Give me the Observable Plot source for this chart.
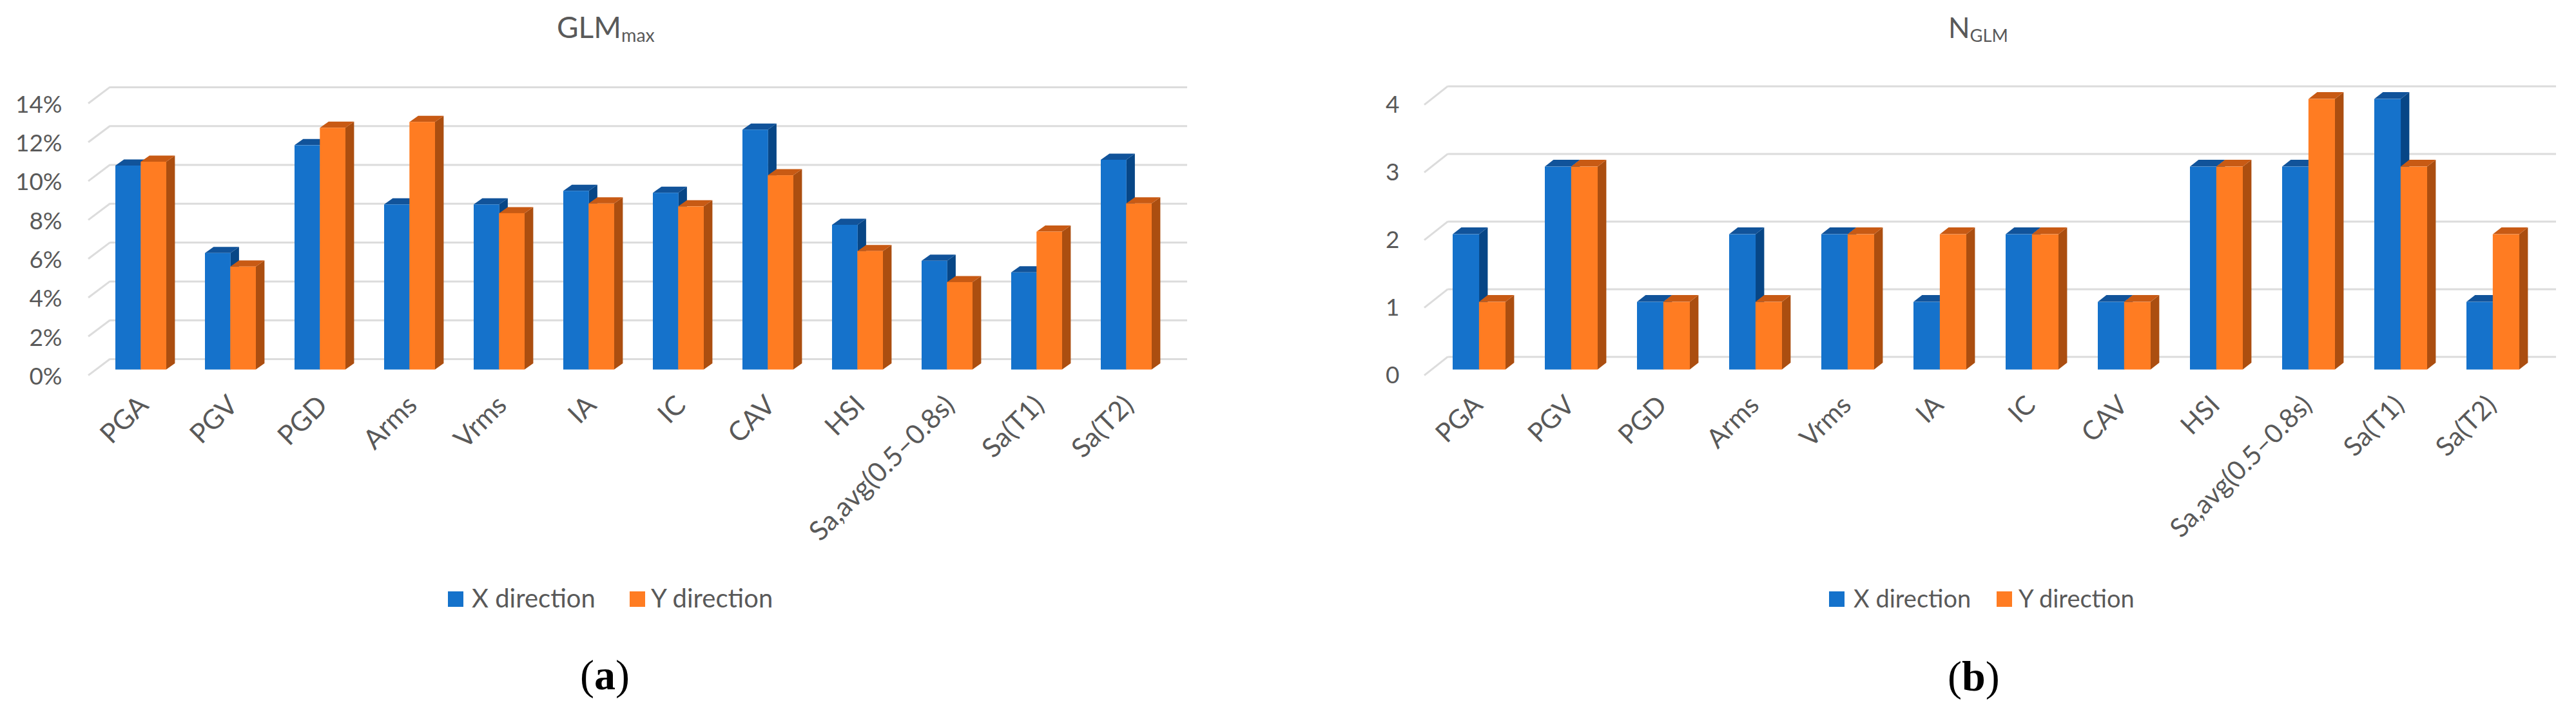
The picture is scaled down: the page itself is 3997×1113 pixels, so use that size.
<!DOCTYPE html>
<html><head><meta charset="utf-8">
<script src="https://cdn.jsdelivr.net/npm/d3@7"></script>
<script src="https://cdn.jsdelivr.net/npm/@observablehq/plot@0.6"></script>
<style>
html,body{margin:0;background:#fff}
#root{position:relative;width:3997px;height:1113px;overflow:hidden;font-family:Lato,sans-serif;color:#595959}
#root svg{position:absolute;top:0;background:transparent;overflow:visible}
.t{position:absolute;white-space:nowrap;line-height:1}
.t sub{font-size:.62em;vertical-align:baseline;position:relative;top:.22em}
.sw{position:absolute;width:24px;height:24px}
.cap{position:absolute;white-space:nowrap;font-family:"Liberation Serif",serif;color:#000;font-size:66px;line-height:1}
</style></head><body><div id="root"></div>
<script>
const categories = ["PGA","PGV","PGD","Arms","Vrms","IA","IC","CAV","HSI","Sa,avg(0.5–0.8s)","Sa(T1)","Sa(T2)"];
const glmX = [10.5,6.0,11.55,8.5,8.5,9.2,9.1,12.35,7.45,5.6,5.0,10.8];
const glmY = [10.7,5.3,12.45,12.75,8.05,8.55,8.4,10.0,6.1,4.5,7.1,8.55];
const nX = [2,3,1,2,2,1,2,1,3,3,4,1];
const nY = [1,3,1,1,2,2,2,1,3,4,3,2];
const glmTicks = [0,2,4,6,8,10,12,14];
const nTicks = [0,1,2,3,4];
const blue = {front:"#1572CB", top:"#11539A", side:"#074686"};
const orange = {front:"#FF7C22", top:"#C85A14", side:"#AB4E10"};
const gridColor = "#DCDCDC", textColor = "#595959";

function depthFaces(vals, col, dx, dy, half){
  return (index, scales) => {
    const g = d3.create("svg:g");
    const w = scales.x.bandwidth()/2, y0 = scales.y(0);
    categories.forEach((c,i)=>{
      const left = scales.x(c) + (half ? w : 0), right = left + w, yt = scales.y(vals[i]);
      g.append("path").attr("fill",col.side)
        .attr("d",`M${right},${yt}L${right+dx},${yt-dy}L${right+dx},${y0-dy}L${right},${y0}Z`);
      g.append("path").attr("fill",col.top)
        .attr("d",`M${left},${yt}L${left+dx},${yt-dy}L${right+dx},${yt-dy}L${right},${yt}Z`);
    });
    return g.node();
  };
}
function wallTicks(ticks, backDy, frontDy, backX, frontX){
  return (index, scales) => {
    const g = d3.create("svg:g");
    ticks.forEach(t=>{
      const y = scales.y(t);
      g.append("line").attr("x1",backX).attr("y1",y-backDy).attr("x2",frontX).attr("y2",y+frontDy)
        .attr("stroke",gridColor).attr("stroke-width",3);
    });
    return g.node();
  };
}
function panel(o){
  const rows = categories.map((c,i)=>({c,x:o.xs[i],y:o.ys[i]}));
  const half = o.band/2;
  const svg = Plot.plot({
    width:o.width, height:760, marginLeft:o.backX, marginRight:o.width-o.rightX, marginTop:20, marginBottom:760-573.6,
    style:{fontFamily:"Lato, sans-serif",background:"transparent",color:textColor},
    x:{type:"band",domain:categories,range:o.xRange,paddingInner:o.padding,paddingOuter:0,align:0.5},
    y:{domain:o.yDomain,range:[573.6,573.6-o.unit*o.yDomain[1]]},
    marks:[
      Plot.ruleY(o.ticks,{dy:-o.backDy,stroke:gridColor,strokeWidth:3}),
      wallTicks(o.ticks,o.backDy,9,o.backX,o.backX-o.wall),
      Plot.axisY({ticks:o.ticks,tickFormat:o.fmt,tickSize:0,tickPadding:o.yPad,dy:o.yDy,fontSize:o.font,label:null,fill:textColor}),
      Plot.axisX({anchor:"bottom",tickSize:0,tickRotate:-45,tickPadding:o.xPad,fontSize:o.xfont,label:null,textAnchor:"end",lineAnchor:"middle",fill:textColor,dx:o.xDx}),
      depthFaces(o.xs,blue,o.dx,o.dy,false),
      Plot.barY(rows,{x:"c",y:"x",fill:blue.front,insetRight:half}),
      depthFaces(o.ys,orange,o.dx,o.dy,true),
      Plot.barY(rows,{x:"c",y:"y",fill:orange.front,insetLeft:half})
    ]
  });
  svg.style.left = o.left+"px";
  return svg;
}
const root = document.getElementById("root");
root.append(panel({left:0,width:2000,backX:171,rightX:1842,wall:34,xs:glmX,ys:glmY,ticks:glmTicks,yDomain:[0,14],unit:30.15,
  fmt:d=>d+"%",backDy:16.6,xRange:[178.6,1787],padding:0.435,band:78.6,dx:13.4,dy:9.5,font:37,xfont:42,yPad:75,yDy:11,xPad:48,xDx:4}));
root.append(panel({left:2050,width:1947,backX:196.7,rightX:1916,wall:36.7,xs:nX,ys:nY,ticks:nTicks,yDomain:[0,4],unit:105,
  fmt:d=>String(d),backDy:20,xRange:[203,1860],padding:0.43,band:81.7,dx:13.4,dy:10.6,font:37,xfont:41,yPad:75.7,yDy:9,xPad:48,xDx:-2}));

function text(html,x,yc,size,cls="t"){
  const d=document.createElement("div");d.className=cls;d.innerHTML=html;
  d.style.left=x+"px";d.style.top=(yc-size/2)+"px";d.style.fontSize=size+"px";root.append(d);return d;
}
function swatch(x,yc,c){const d=document.createElement("div");d.className="sw";d.style.left=x+"px";d.style.top=(yc-12)+"px";d.style.background=c;root.append(d);}
text("GLM<sub>max</sub>",864,42,46);
text("N<sub>GLM</sub>",3023,42,44);
swatch(695,930,blue.front);text("X direction",732,928,40);
swatch(977,930,orange.front);text("Y direction",1010,928,40);
swatch(2838,930,blue.front);text("X direction",2876,928,38);
swatch(3098,930,orange.front);text("Y direction",3132,928,38);
text("(<b>a</b>)",900,1048,66,"cap");
text("(<b>b</b>)",3022,1050,66,"cap");
</script></body></html>
